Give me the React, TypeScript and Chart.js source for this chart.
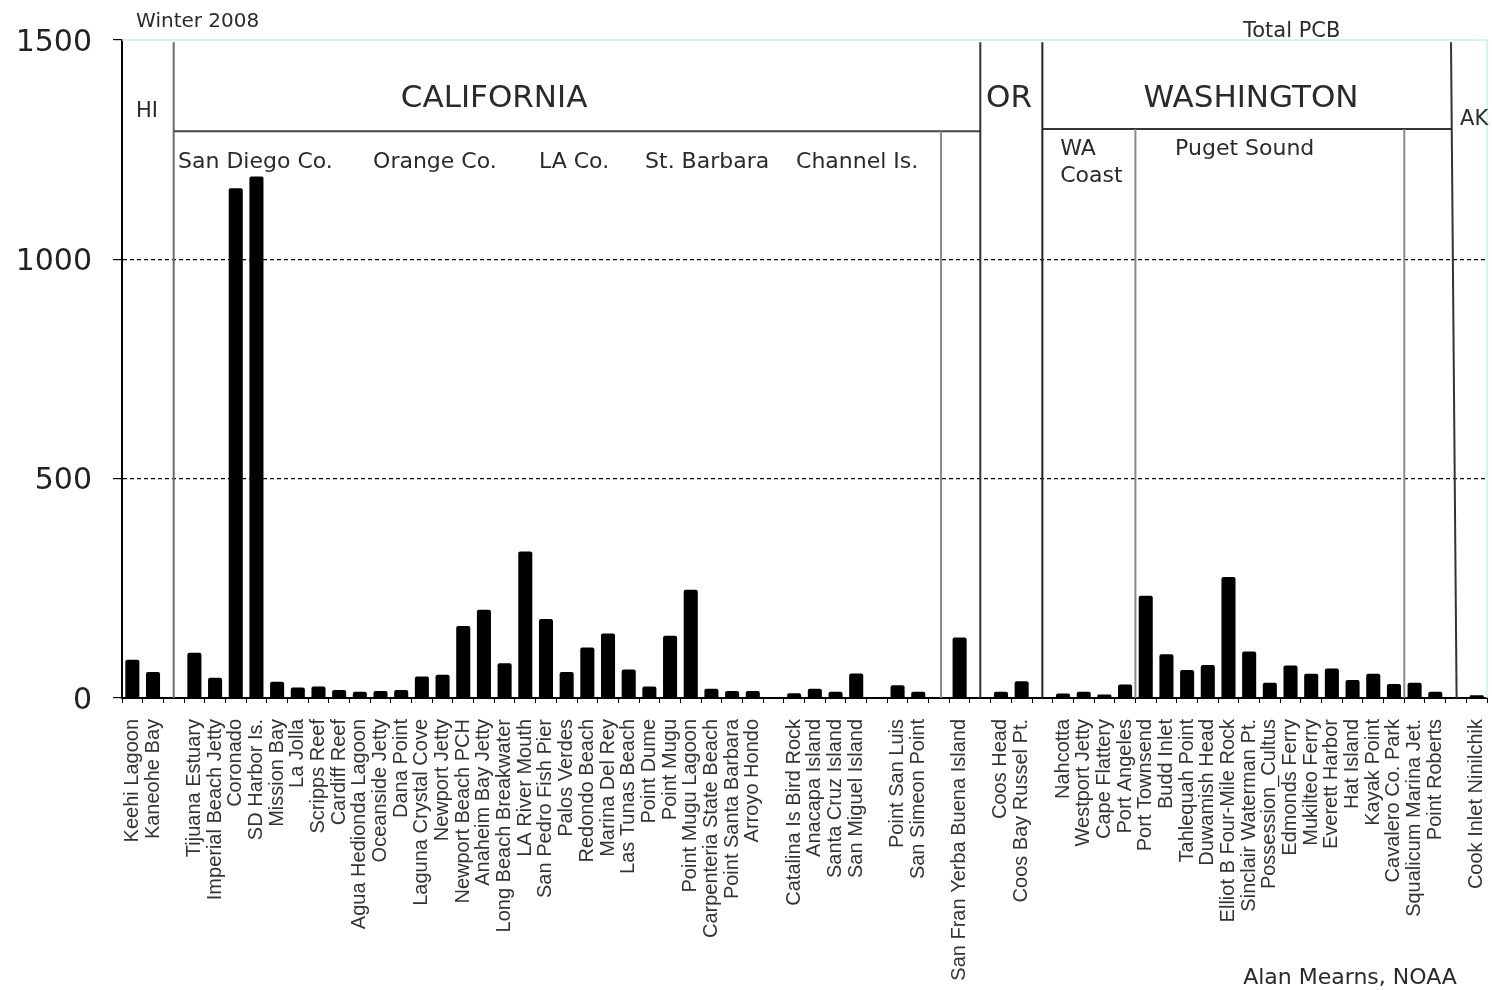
import React, { useEffect, useRef } from 'react';
import { Chart, registerables } from 'chart.js';

Chart.register(...registerables);

// ---- data ----
const sites: string[] = [
  'Keehi Lagoon', 'Kaneohe Bay', '',
  'Tijuana Estuary', 'Imperial Beach Jetty', 'Coronado', 'SD Harbor Is.', 'Mission Bay', 'La Jolla',
  'Scripps Reef', 'Cardiff Reef', 'Agua Hedionda Lagoon', 'Oceanside Jetty', 'Dana Point',
  'Laguna Crystal Cove', 'Newport Jetty', 'Newport Beach PCH', 'Anaheim Bay Jetty',
  'Long Beach Breakwater', 'LA River Mouth', 'San Pedro Fish Pier', 'Palos Verdes',
  'Redondo Beach', 'Marina Del Rey', 'Las Tunas Beach', 'Point Dume', 'Point Mugu',
  'Point Mugu Lagoon', 'Carpenteria State Beach', 'Point Santa Barbara', 'Arroyo Hondo', '',
  'Catalina Is Bird Rock', 'Anacapa Island', 'Santa Cruz Island', 'San Miguel Island', '',
  'Point San Luis', 'San Simeon Point', '',
  'San Fran Yerba Buena Island', '',
  'Coos Head', 'Coos Bay Russel Pt.', '',
  'Nahcotta', 'Westport Jetty', 'Cape Flattery', 'Port Angeles', 'Port Townsend', 'Budd Inlet',
  'Tahlequah Point', 'Duwamish Head', 'Elliot B Four-Mile Rock', 'Sinclair Waterman Pt.',
  'Possession_Cultus', 'Edmonds Ferry', 'Mukilteo Ferry', 'Everett Harbor', 'Hat Island',
  'Kayak Point', 'Cavalero Co. Park', 'Squalicum Marina Jet.', 'Point Roberts', '',
  'Cook Inlet Ninilchik',
];

const totalPCB: (number | null)[] = [
  87, 59, null,
  103, 46, 1162, 1189, 37, 24,
  26, 18, 14, 16, 18,
  49, 53, 164, 201,
  79, 334, 180, 59,
  115, 147, 65, 26, 142,
  247, 21, 16, 16, null,
  11, 21, 14, 56, null,
  29, 14, null,
  138, null,
  14, 38, null,
  10, 14, 8, 31, 233, 100,
  64, 75, 276, 106,
  35, 74, 55, 67, 41,
  55, 32, 35, 14, null,
  6,
];

const yTickValues: number[] = [0, 500, 1000, 1500];

// ---- annotation layout (category index / value coordinates) ----
type Seg = { x1: number; v1: number; x2: number; v2: number; color: string };
const segments: Seg[] = [
  { x1: 2, v1: 1495, x2: 2, v2: 0, color: '#6a6a6a' },
  { x1: 2, v1: 1292, x2: 41, v2: 1292, color: '#444' },
  { x1: 39.1, v1: 1292, x2: 39.1, v2: 0, color: '#8a8a8a' },
  { x1: 41, v1: 1495, x2: 41, v2: 0, color: '#333' },
  { x1: 44, v1: 1495, x2: 44, v2: 0, color: '#222' },
  { x1: 44, v1: 1297, x2: 63.76, v2: 1297, color: '#333' },
  { x1: 48.5, v1: 1297, x2: 48.5, v2: 0, color: '#8a8a8a' },
  { x1: 61.5, v1: 1297, x2: 61.5, v2: 0, color: '#8a8a8a' },
  { x1: 63.76, v1: 1495, x2: 64.03, v2: 0, color: '#333' },
];

type Txt = { text: string; x: number; v: number; size: number; align: CanvasTextAlign };
const texts: Txt[] = [
  { text: 'Winter 2008', x: 0.18, v: 1541, size: 20, align: 'left' },
  { text: 'Total PCB', x: 53.7, v: 1520, size: 21, align: 'left' },
  { text: 'HI', x: 0.18, v: 1338, size: 21, align: 'left' },
  { text: 'CALIFORNIA', x: 17.49, v: 1365, size: 31, align: 'center' },
  { text: 'OR', x: 41.28, v: 1365, size: 31, align: 'left' },
  { text: 'WASHINGTON', x: 54.09, v: 1365, size: 31, align: 'center' },
  { text: 'AK', x: 64.2, v: 1318, size: 21, align: 'left' },
  { text: 'San Diego Co.', x: 2.21, v: 1222, size: 22, align: 'left' },
  { text: 'Orange Co.', x: 11.64, v: 1222, size: 22, align: 'left' },
  { text: 'LA Co.', x: 19.66, v: 1222, size: 22, align: 'left' },
  { text: 'St. Barbara', x: 24.79, v: 1222, size: 22, align: 'left' },
  { text: 'Channel Is.', x: 32.09, v: 1222, size: 22, align: 'left' },
  { text: 'WA', x: 44.86, v: 1251, size: 22, align: 'left' },
  { text: 'Coast', x: 44.86, v: 1190, size: 22, align: 'left' },
  { text: 'Puget Sound', x: 50.42, v: 1251, size: 22, align: 'left' },
  { text: 'Alan Mearns, NOAA', x: 53.71, v: -638, size: 22, align: 'left' },
];

const annotationPlugin = {
  id: 'regionAnnotations',
  afterDatasetsDraw(chart: any) {
    const { ctx, chartArea, scales } = chart;
    const xs = scales.x;
    const ys = scales.y;
    ctx.save();
    // light cyan frame top/right
    ctx.strokeStyle = '#c9eeee';
    ctx.lineWidth = 1.5;
    ctx.beginPath();
    ctx.moveTo(chartArea.left, ys.getPixelForValue(1500));
    ctx.lineTo(chartArea.right, ys.getPixelForValue(1500));
    ctx.lineTo(chartArea.right, ys.getPixelForValue(0));
    ctx.stroke();

    ctx.lineWidth = 2;
    for (const s of segments) {
      ctx.strokeStyle = s.color;
      ctx.beginPath();
      ctx.moveTo(xs.getPixelForValue(s.x1), ys.getPixelForValue(s.v1));
      ctx.lineTo(xs.getPixelForValue(s.x2), ys.getPixelForValue(s.v2));
      ctx.stroke();
    }

    ctx.fillStyle = '#2a2a2a';
    ctx.textBaseline = 'middle';
    for (const t of texts) {
      ctx.font = `${t.size}px "DejaVu Sans", Verdana, sans-serif`;
      ctx.textAlign = t.align;
      ctx.fillText(t.text, xs.getPixelForValue(t.x), ys.getPixelForValue(t.v));
    }
    ctx.restore();
  },
};

export default function App() {
  const canvasRef = useRef<HTMLCanvasElement | null>(null);

  useEffect(() => {
    if (!canvasRef.current) return;
    const chart = new Chart(canvasRef.current, {
      type: 'bar',
      data: {
        labels: sites,
        datasets: [
          {
            label: 'Total PCB',
            data: totalPCB,
            backgroundColor: '#000',
            borderWidth: 0,
            borderRadius: 2,
            barPercentage: 0.68,
            categoryPercentage: 1,
          },
        ],
      },
      options: {
        animation: false,
        responsive: false,
        devicePixelRatio: 1,
        layout: { padding: { top: 40, right: 5, left: 0, bottom: 0 } },
        plugins: {
          legend: { display: false },
          tooltip: { enabled: false },
          title: { display: false },
        },
        scales: {
          x: {
            offset: true,
            grid: {
              display: true,
              drawOnChartArea: false,
              drawTicks: true,
              tickLength: 5,
              tickColor: '#000',
              offset: true,
            },
            border: { display: true, color: '#000', width: 2 },
            ticks: {
              autoSkip: false,
              minRotation: 90,
              maxRotation: 90,
              padding: 16,
              color: '#333',
              font: { family: '"Liberation Sans", Arial, sans-serif', size: 20 },
            },
            afterFit: (scale: any) => {
              scale.height = 292;
              scale.paddingLeft = 0;
              scale.paddingRight = 0;
            },
          },
          y: {
            min: 0,
            max: 1500,
            afterBuildTicks: (scale: any) => {
              scale.ticks = yTickValues.map((v) => ({ value: v }));
            },
            grid: {
              color: (ctx: any) =>
                ctx.tick && (ctx.tick.value === 500 || ctx.tick.value === 1000) ? '#000' : 'rgba(0,0,0,0)',
              lineWidth: 1.2,
              drawTicks: true,
              tickLength: 9,
              tickColor: '#000',
            },
            border: { display: true, color: '#000', width: 2, dash: [4, 3] },
            ticks: {
              padding: 21,
              labelOffset: 3,
              color: '#222',
              font: { family: '"DejaVu Sans", Verdana, sans-serif', size: 30 },
              callback: (value: any) => String(value),
            },
            afterFit: (scale: any) => {
              scale.width = 122;
              scale.paddingTop = 0;
              scale.paddingBottom = 0;
            },
          },
        },
      },
      plugins: [annotationPlugin],
    });
    return () => chart.destroy();
  }, []);

  return (
    <div style={{ position: 'absolute', left: 0, top: 0, width: 1492, height: 990, background: '#fff' }}>
      <canvas ref={canvasRef} width={1492} height={990} style={{ display: 'block' }} />
    </div>
  );
}
